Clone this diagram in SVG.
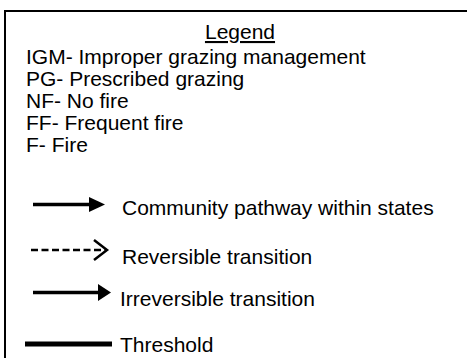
<svg xmlns="http://www.w3.org/2000/svg" width="467" height="358" viewBox="0 0 467 358">
<style>
  text { font-family: "Liberation Sans", Arial, sans-serif; font-size: 21px; fill: #000; }
  .frame { stroke: #000; stroke-width: 2; fill: none; }
  .solid { stroke: #000; stroke-width: 3.5; fill: none; }
  .dash { stroke: #000; stroke-width: 2.5; fill: none; stroke-dasharray: 7 3.5; }
  .chev { stroke: #000; stroke-width: 2.5; fill: none; }
  .head { fill: #000; }
  .thick { stroke: #000; stroke-width: 5; fill: none; }
</style>
<rect width="467" height="358" fill="#fff"/>
<g id="frame">
  <path class="frame" d="M5,358 V11 H467"/>
</g>
<g id="title">
  <text x="240" y="39" text-anchor="middle" text-decoration="underline">Legend</text>
</g>
<g id="abbreviations">
  <text x="26" y="64">IGM- Improper grazing management</text>
  <text x="26" y="86">PG- Prescribed grazing</text>
  <text x="26" y="108">NF- No fire</text>
  <text x="26" y="130">FF- Frequent fire</text>
  <text x="26" y="152">F- Fire</text>
</g>
<g id="connectors">
  <line class="solid" x1="33" y1="204.5" x2="92" y2="204.5"/>
  <polygon class="head" points="89,197 105,204.5 89,212"/>
  <line class="dash" x1="31" y1="250" x2="105" y2="250"/>
  <polyline class="chev" points="94,240 107,250 94,260"/>
  <line class="solid" x1="33" y1="292.5" x2="100" y2="292.5"/>
  <polygon class="head" points="98,284 111,292.5 98,301"/>
  <line class="thick" x1="25" y1="344" x2="112" y2="344"/>
</g>
<g id="legend-labels">
  <text x="122" y="215">Community pathway within states</text>
  <text x="122" y="264">Reversible transition</text>
  <text x="120" y="306">Irreversible transition</text>
  <text x="120" y="352">Threshold</text>
</g>
</svg>
